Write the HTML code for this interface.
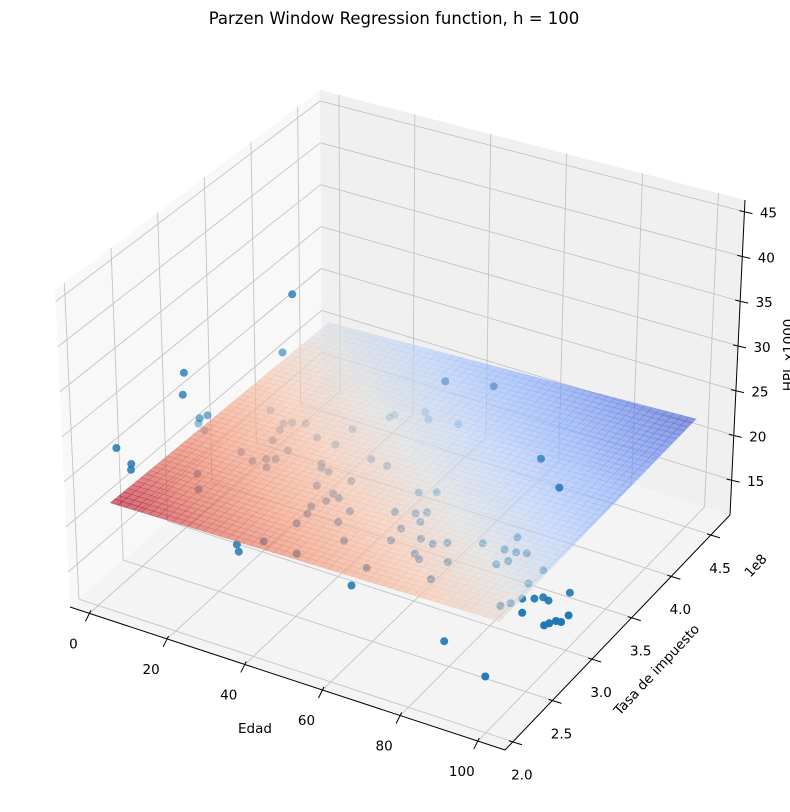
<!DOCTYPE html>
<html><head><meta charset="utf-8"><style>
html,body{margin:0;padding:0;background:#fff;}
svg{display:block;font-family:"DejaVu Sans","Liberation Sans",sans-serif;}
</style></head><body>
<svg id="chart" width="790" height="812" viewBox="0 0 790 812" xmlns="http://www.w3.org/2000/svg">
<text x="394" y="24" font-size="16.5" text-anchor="middle" fill="#000">Parzen Window Regression function, h = 100</text>
<g id="panes"></g><g id="grid"></g><g id="axes"></g><g id="below"></g><g id="surface"></g><g id="above"></g><g id="labels"></g>
</svg>
<script>
// ---- data ----
const edadTicks = [0,20,40,60,80,100];
const tasaTicks = [2.0,2.5,3.0,3.5,4.0,4.5];
const tasaTickLabels = ["2.0","2.5","3.0","3.5","4.0","4.5"];
const hplTicks = [15,20,25,30,35,40,45];
const edadRange = [-5,107];
const tasaRange = [1.9,4.74];
const hplRange = [11.1,46.3];
// surface domain & corner heights [e0t0, e1t0, e0t1, e1t1]
const surfEdad = [3.9,102.5];
const surfTasa = [2.014,4.456];
const surfZ = [22.9,22.9,22.3,23.8];
// scatter points (edad, tasa x1e8, hpl)
const ptEdad = [-2.0,0.8,9.1,12.7,9.0,14.5,15.9,18.8,15.2,16.1,24.2,29.3,12.6,16.8,19.0,20.8,20.9,21.3,30.7,31.6,33.9,34.6,39.5,41.5,39.7,38.0,38.8,38.8,46.5,36.3,51.6,45.2,33.9,34.4,40.0,42.2,49.1,29.2,39.4,44.1,40.3,56.0,59.5,55.4,59.8,61.8,62.5,46.5,60.1,60.6,66.1,69.5,72.1,79.2,84.8,84.7,87.6,89.9,86.1,87.8,68.0,69.9,76.1,61.6,76.3,95.2,
 26.4,17.3,9.4,10.0,3.4,5.6,5.8,5.2,6.0,45.8,55.6,79.7,90.3,
 28.9,29.8,55.6,77.5,90.7,90.2,89.9,90.3,91.7,94.1,95.6,97.3,100.0,94.5,104.2,102.8,104.0,101.9,101.3];
const ptTasa = [3.245,3.195,2.755,2.609,3.585,3.495,3.53,3.563,3.424,3.302,3.458,3.445,3.097,3.042,3.104,3.132,3.025,3.249,3.222,3.182,3.164,2.998,2.967,2.944,2.877,2.78,2.699,2.575,2.712,2.304,2.548,2.284,3.869,3.905,4.021,3.96,4.004,3.646,3.413,3.393,3.143,3.23,3.286,2.975,3.02,3.064,2.952,2.848,2.833,2.69,2.793,2.777,2.833,2.931,3.09,2.937,2.944,2.965,2.77,2.837,2.632,2.595,2.651,2.355,2.437,2.386,
 3.098,3.375,2.625,2.58,2.123,2.184,2.17,2.961,3.013,3.993,4.129,3.606,3.333,
 2.326,2.306,2.451,2.555,2.439,3.164,2.995,2.757,2.834,2.871,2.909,2.894,3.031,2.701,2.814,2.724,2.729,2.682,2.647];
const ptHpl = [20.5,20.5,20.5,20.5,20.5,20.5,20.5,20.5,20.5,20.5,20.5,20.5,20.5,20.5,20.5,20.5,20.5,20.5,20.5,20.5,20.5,20.5,20.5,20.5,20.5,20.5,20.5,20.5,20.5,20.5,20.5,20.5,20.5,20.5,20.5,20.5,20.5,20.5,20.5,20.5,20.5,20.5,20.5,20.5,20.5,20.5,20.5,20.5,20.5,20.5,20.5,20.5,20.5,20.5,20.5,20.5,20.5,20.5,20.5,20.5,20.5,20.5,20.5,20.5,20.5,20.5,
 40,30,33,31,28,26,25.5,24.5,24.5,25,24.5,24,24.5,
 19,18.5,17,13,12,17,17,17,17,17,17,17,17,17,17,17,17,17,17];

// ---- projection ----
const FA=[70,607],FB=[505,750],FC=[730,515],FD=[322,385];
const TA=[55,290],TB=[515,410],TC=[745,200],TD=[320,90];
function bil(a,b,c,d,e,t){return [(1-e)*(1-t)*a[0]+e*(1-t)*b[0]+e*t*c[0]+(1-e)*t*d[0],(1-e)*(1-t)*a[1]+e*(1-t)*b[1]+e*t*c[1]+(1-e)*t*d[1]];}
function P(e,t,z){const f=bil(FA,FB,FC,FD,e,t),g=bil(TA,TB,TC,TD,e,t);return [f[0]*(1-z)+g[0]*z,f[1]*(1-z)+g[1]*z];}
const ne=v=>(v-edadRange[0])/(edadRange[1]-edadRange[0]);
const nt=v=>(v-tasaRange[0])/(tasaRange[1]-tasaRange[0]);
const nz=v=>(v-hplRange[0])/(hplRange[1]-hplRange[0]);
const NS='http://www.w3.org/2000/svg';
function mk(tag,parent,attrs){const el=document.createElementNS(NS,tag);for(const k in attrs)el.setAttribute(k,attrs[k]);parent.appendChild(el);return el;}
const pts=a=>a.map(p=>p[0].toFixed(1)+','+p[1].toFixed(1)).join(' ');

// panes
const gP=document.getElementById('panes');
let el=mk('polygon',gP,{points:pts([P(0,0,0),P(1,0,0),P(1,1,0),P(0,1,0)]),fill:'#f4f4f4'});


el=mk('polygon',gP,{points:pts([P(0,0,0),P(0,1,0),P(0,1,1),P(0,0,1)]),fill:'#f8f8f8'});


el=mk('polygon',gP,{points:pts([P(0,1,0),P(1,1,0),P(1,1,1),P(0,1,1)]),fill:'#f0f0f0'});



// grid
const gG=document.getElementById('grid');
function gl(a,b,name){const l=mk('line',gG,{x1:a[0],y1:a[1],x2:b[0],y2:b[1],stroke:'#c4c4c4','stroke-width':0.9});

}
edadTicks.forEach(v=>{const e=ne(v);gl(P(e,0,0),P(e,1,0),'floor-gridline-edad');gl(P(e,1,0),P(e,1,1),'wall-gridline-edad');});
tasaTicks.forEach(v=>{const t=nt(v);gl(P(0,t,0),P(1,t,0),'floor-gridline-tasa');gl(P(0,t,0),P(0,t,1),'wall-gridline-tasa');});
hplTicks.forEach(v=>{const z=nz(v);gl(P(0,0,z),P(0,1,z),'left-gridline-hpl');gl(P(0,1,z),P(1,1,z),'back-gridline-hpl');});

// axes + ticks + labels
const gA=document.getElementById('axes'), gL=document.getElementById('labels');
function al(a,b,name){const l=mk('line',gA,{x1:a[0],y1:a[1],x2:b[0],y2:b[1],stroke:'#000','stroke-width':1});

}
al(P(0,0,0),P(1,0,0),'x-axis-line');al(P(1,0,0),P(1,1,0),'y-axis-line');al(P(1,1,0),P(1,1,1),'z-axis-line');
function tl(x,y,s,name){const t=mk('text',gL,{x:x,y:y,'font-size':13.5,'text-anchor':'middle','dominant-baseline':'central',fill:'#000'});t.textContent=s;

return t;}
edadTicks.forEach(v=>{const p=P(ne(v),0,0);al([p[0]+1.5,p[1]-3],[p[0]-4,p[1]+8],'x-tick');tl(p[0]-16,p[1]+31,String(v),'x-tick-label');});
tasaTicks.forEach((v,i)=>{const p=P(1,nt(v),0);al([p[0]-4,p[1]-1],[p[0]+9,p[1]+3],'y-tick');tl(p[0]+9,p[1]+34,tasaTickLabels[i],'y-tick-label');});
hplTicks.forEach(v=>{const p=P(1,1,nz(v));al([p[0]-5,p[1]-1],[p[0]+8,p[1]+2],'z-tick');tl(p[0]+24,p[1]+2,String(v),'z-tick-label');});
tl(255,729,'Edad','x-axis-title');
let tt=tl(657,670,'Tasa de impuesto','y-axis-title');tt.setAttribute('transform','rotate(-47 657 670)');
tt=tl(756,566,'1e8','y-axis-offset');tt.setAttribute('transform','rotate(-47 756 566)');
tt=tl(789,355,'HPL x1000','z-axis-title');tt.setAttribute('transform','rotate(-90 789 355)');

// coolwarm
const cw=[[59,76,192],[98,130,234],[141,176,254],[184,208,249],[221,221,221],[245,196,173],[244,154,123],[222,96,77],[180,4,38]];
function cmap(c){c=Math.max(0,Math.min(1,c))*8;const i=Math.min(7,Math.floor(c)),f=c-i;const a=cw[i],b=cw[i+1];return 'rgb('+[0,1,2].map(k=>Math.round(a[k]+(b[k]-a[k])*f)).join(',')+')';}

// surface
const gS=document.getElementById('surface');
const N=50;
function surfAt(u,v){return surfZ[0]*(1-u)*(1-v)+surfZ[1]*u*(1-v)+surfZ[2]*(1-u)*v+surfZ[3]*u*v;}
function SP(u,v){const ed=surfEdad[0]+(surfEdad[1]-surfEdad[0])*u, ta=surfTasa[0]+(surfTasa[1]-surfTasa[0])*v;return P(ne(ed),nt(ta),nz(surfAt(u,v)));}
for(let j=N-1;j>=0;j--){for(let i=0;i<N;i++){
 const u0=i/N,u1=(i+1)/N,v0=j/N,v1=(j+1)/N;
 const col=cmap(1-0.45*(u0+u1)/2-0.52*(v0+v1)/2);
 const q=mk('polygon',gS,{points:pts([SP(u0,v0),SP(u1,v0),SP(u1,v1),SP(u0,v1)]),fill:col,'fill-opacity':0.6,stroke:col,'stroke-opacity':0.45,'stroke-width':0.6});
 
 
}}

// scatter
const gB=document.getElementById('below'), gAb=document.getElementById('above');
const close=ptEdad.map((v,i)=>0.433*ne(v)-0.75*nt(ptTasa[i])+0.3*nz(ptHpl[i]));
const cmin=Math.min(...close), cmax=Math.max(...close);
ptEdad.forEach((v,i)=>{
 const e=ne(v),t=nt(ptTasa[i]),z=nz(ptHpl[i]);
 const p=P(e,t,z);
 const u=(v-surfEdad[0])/(surfEdad[1]-surfEdad[0]), w=(ptTasa[i]-surfTasa[0])/(surfTasa[1]-surfTasa[0]);
 const sz=surfAt(Math.max(0,Math.min(1,u)),Math.max(0,Math.min(1,w)));
 const alpha=0.3+0.7*(close[i]-cmin)/(cmax-cmin);
 const c=mk('circle',ptHpl[i]>sz?gAb:gB,{cx:p[0].toFixed(1),cy:p[1].toFixed(1),r:4,fill:'#1f77b4','fill-opacity':Math.min(1,alpha+0.1).toFixed(2)});
 
 
});
</script>
</body></html>
